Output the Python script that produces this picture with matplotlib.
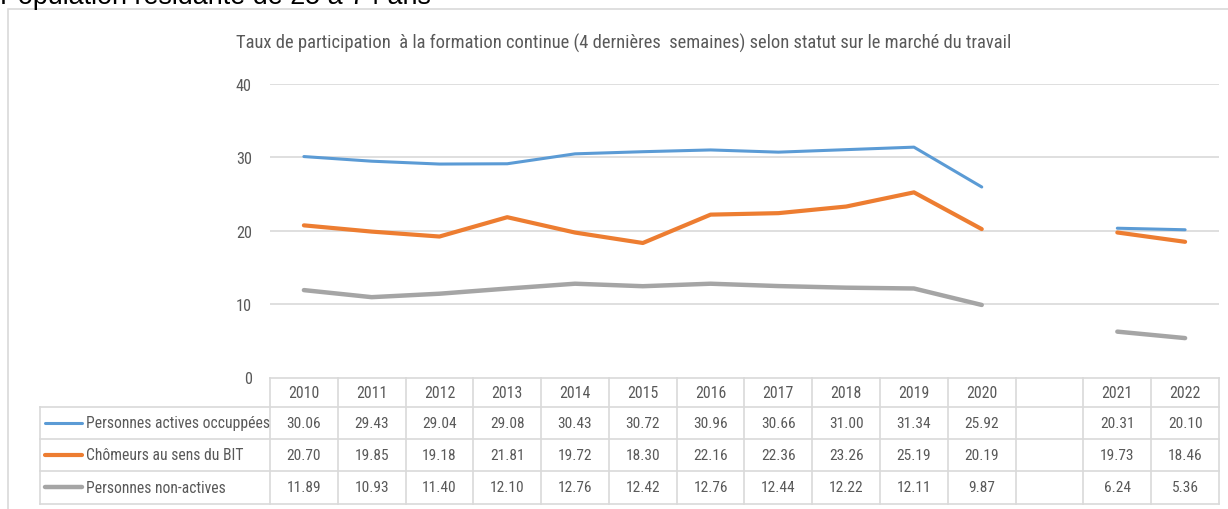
import numpy as np
import matplotlib
matplotlib.use("Agg")
import matplotlib.pyplot as plt
from matplotlib import font_manager
from matplotlib.font_manager import FontProperties
from matplotlib.patches import Rectangle
from matplotlib.lines import Line2D

# ---------------- data ----------------
years = ["2010", "2011", "2012", "2013", "2014", "2015", "2016", "2017",
         "2018", "2019", "2020", "", "2021", "2022"]
series_names = ["Personnes actives occuppées", "Chômeurs au sens du BIT",
                "Personnes non-actives"]
actives = [30.06, 29.43, 29.04, 29.08, 30.43, 30.72, 30.96, 30.66, 31.00,
           31.34, 25.92, None, 20.31, 20.10]
chomeurs = [20.70, 19.85, 19.18, 21.81, 19.72, 18.30, 22.16, 22.36, 23.26,
            25.19, 20.19, None, 19.73, 18.46]
non_actives = [11.89, 10.93, 11.40, 12.10, 12.76, 12.42, 12.76, 12.44, 12.22,
               12.11, 9.87, None, 6.24, 5.36]
title = ("Taux de participation  à la formation continue (4 dernières  semaines) "
         "selon statut sur le marché du travail")
top_text = "Population résidante de 25 à 74 ans"
yticks = [0, 10, 20, 30, 40]

colors = ["#5B9BD5", "#ED7D31", "#A5A5A5"]
widths = [2.2, 3.0, 3.2]

TXT = "#595959"
GRID = "#D9D9D9"

W, H = 1228, 510
fig = plt.figure(figsize=(W / 100, H / 100), dpi=100)
renderer = fig.canvas.get_renderer()

# ---------------- fonts: prefer a condensed sans if installed ----------------
def pick_condensed():
    prefs = ["liberation", "arial", "roboto", "open sans", "noto sans", "lato", "dejavu"]
    cands = []
    for f in font_manager.fontManager.ttflist:
        nm = f.name.lower()
        is_cond = (f.stretch == "condensed") or ("narrow" in nm) or ("condensed" in nm)
        if not is_cond or f.style != "normal":
            continue
        if "cjk" in nm or "mono" in nm or "serif" in nm:
            continue
        if f.weight not in (400, "normal", "regular", "book"):
            continue
        rank = next((i for i, p in enumerate(prefs) if p in nm), len(prefs))
        cands.append((rank, f.fname))
    if cands:
        cands.sort()
        return cands[0][1]
    return None

cond_file = pick_condensed()

def fp(size, regular=False):
    if cond_file and not regular:
        return FontProperties(fname=cond_file, size=size)
    return FontProperties(family=["Liberation Sans", "DejaVu Sans"], size=size)

def fit_size(s, target_px, regular=False, base=10.0):
    t = fig.text(0, 0, s, fontproperties=fp(base, regular))
    w = t.get_window_extent(renderer).width
    t.remove()
    return base * target_px / w

fs_num = fit_size("30.06", 34)
fs_year = fit_size("2010", 31)
fs_leg = fit_size("Personnes actives occuppées", 182)
fs_title = fit_size(title, 768)
fs_ytick = fit_size("40", 16)
fs_top = fit_size(top_text, 433, regular=True)

# pixel geometry
x0, x1 = 270, 1219
y_top, y_zero = 84.5, 378.5
ax = fig.add_axes([x0 / W, 1 - y_zero / H, (x1 - x0) / W, (y_zero - y_top) / H])
n = len(years)
ax.set_xlim(-0.5, n - 0.5)
ax.set_ylim(0, 40)
for s in ax.spines.values():
    s.set_visible(False)
ax.set_xticks([])
ax.set_yticks(yticks)
ax.set_yticklabels([str(t) for t in yticks])
for lab in ax.get_yticklabels():
    lab.set_fontproperties(fp(fs_ytick))
    lab.set_color(TXT)
ax.tick_params(axis="y", length=0, pad=13)
for t in yticks[1:]:
    ax.axhline(t, color=GRID, lw=1.2, zorder=0)

xs = np.arange(n)
all_series = [actives, chomeurs, non_actives]
for vals, c, lw in zip(all_series, colors, widths):
    y = np.array([np.nan if v is None else v for v in vals], dtype=float)
    ax.plot(xs, y, color=c, lw=lw, solid_capstyle="round", solid_joinstyle="round",
            clip_on=False, zorder=3)

# ---------------- data table ----------------
ax_h = y_zero - y_top
def ay(py):
    return (y_zero - py) / ax_h

px_unit = (x1 - x0) / n
leg_left = -0.5 - (x0 - 40) / px_unit
row_edges_px = [378.5, 408, 440, 472, 505]
row_y = [ay(p) for p in row_edges_px]
trans = ax.get_xaxis_transform()

def hline(xa, xb, yv):
    ax.add_line(Line2D([xa, xb], [yv, yv], transform=trans, color=GRID, lw=1.2,
                       clip_on=False, zorder=1))

def vline(xv, ya, yb):
    ax.add_line(Line2D([xv, xv], [ya, yb], transform=trans, color=GRID, lw=1.2,
                       clip_on=False, zorder=1))

hline(-0.5, n - 0.5, row_y[0])
for yv in row_y[1:]:
    hline(leg_left, n - 0.5, yv)
for i in range(n + 1):
    vline(i - 0.5, row_y[0], row_y[-1])
vline(leg_left, row_y[1], row_y[-1])

# header
hc = (row_y[0] + row_y[1]) / 2
for i, yr in enumerate(years):
    ax.text(i, hc, yr, transform=trans, ha="center", va="center",
            fontproperties=fp(fs_year), color=TXT, clip_on=False)

sw0 = leg_left + 5 / px_unit
sw1 = leg_left + 42 / px_unit
lab_x = leg_left + 46 / px_unit
for r, (vals, name, c, lw) in enumerate(zip(all_series, series_names, colors, widths)):
    yc = (row_y[r + 1] + row_y[r + 2]) / 2
    ax.add_line(Line2D([sw0, sw1], [yc, yc], transform=trans, color=c, lw=lw,
                       solid_capstyle="round", clip_on=False))
    ax.text(lab_x, yc, name, transform=trans, ha="left", va="center",
            fontproperties=fp(fs_leg), color=TXT, clip_on=False)
    for i, v in enumerate(vals):
        if v is None:
            continue
        ax.text(i, yc, f"{v:.2f}", transform=trans, ha="center", va="center",
                fontproperties=fp(fs_num), color=TXT, clip_on=False)

# title
fig.text(624 / W, 1 - 43 / H, title, ha="center", va="center",
         fontproperties=fp(fs_title), color=TXT)

# outer frame (chart area border)
fig.add_artist(Rectangle((8 / W, -0.1), 1.2, 1 - 10 / H + 0.1, transform=fig.transFigure,
                         fill=False, edgecolor=GRID, lw=1.2))

# heading at top (cut off by the image edge, as in the source picture)
fig.text(0, 1 - 4 / H, top_text, ha="left", va="baseline",
         fontproperties=fp(fs_top, regular=True), color="black")

fig.savefig("out.png", dpi=100, facecolor="white")
